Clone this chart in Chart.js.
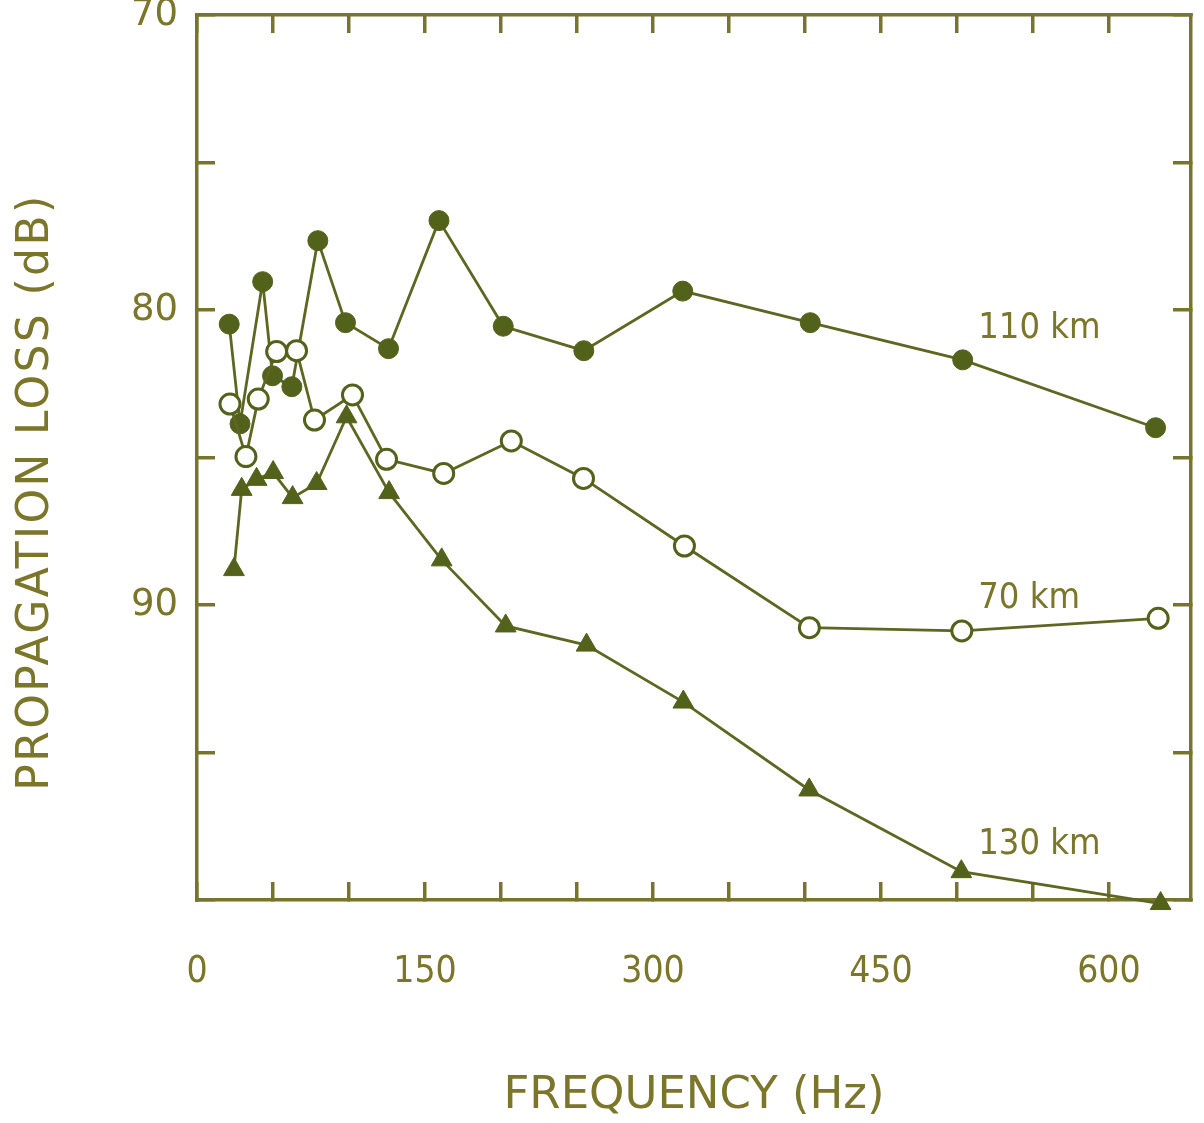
<!DOCTYPE html>
<html>
<head>
<meta charset="utf-8">
<script src="https://cdn.jsdelivr.net/npm/chart.js@4/dist/chart.umd.min.js"></script>
<style>
html,body{margin:0;padding:0;background:#ffffff;}
#wrap{width:1204px;height:1123px;position:relative;}
</style>
</head>
<body>
<div id="wrap"><canvas id="c"></canvas></div>
<script>
// ---- data ----
const seriesNames = ['110 km', '70 km', '130 km'];

const freq110 = [21.2, 28.3, 43.2, 49.7, 62.4, 79.5, 97.7, 126.0, 159.2, 201.5, 254.5, 319.6, 403.5, 503.8, 630.7];
const loss110 = [80.48, 83.86, 79.04, 82.23, 82.6, 77.65, 80.43, 81.31, 76.97, 80.55, 81.38, 79.36, 80.43, 81.69, 83.99];

const freq70 = [21.7, 32.2, 40.3, 52.4, 65.5, 77.3, 102.3, 124.7, 162.3, 206.8, 254.3, 320.7, 402.9, 503.2, 632.4];
const loss70 = [83.19, 84.97, 83.02, 81.41, 81.38, 83.73, 82.88, 85.06, 85.54, 84.44, 85.71, 88.0, 90.77, 90.88, 90.45];

const freq130 = [24.3, 29.4, 39.2, 50.1, 62.9, 78.7, 98.4, 126.4, 161.0, 203.1, 256.3, 320.0, 402.8, 502.9, 634.0];
const loss130 = [88.8, 86.08, 85.74, 85.51, 86.36, 85.88, 83.62, 86.19, 88.47, 90.71, 91.36, 93.29, 96.27, 99.04, 100.12];

// x axis: ticks every 50 Hz, labels every 150 Hz
const xTickLabels = ['0', '150', '300', '450', '600'];
// y axis: ticks every 5 dB, labels every 10 dB
const yTickLabels = ['70', '80', '90'];

// where the series names sit (in data units)
const nameFreq = [514, 514, 514];
const nameLoss = [80.62, 89.8, 98.12];

const xTitle = 'FREQUENCY (Hz)';
const yTitle = 'PROPAGATION LOSS (dB)';

// ---- styles ----
const axisColor = '#77752b';
const textColor = '#7b7629';
const lineColor = '#5e6622';
const markColor = '#52621b';

function pts(xs, ys) { return xs.map((v, i) => ({ x: v, y: ys[i] })); }

const innerTick = {
  drawOnChartArea: false, drawTicks: true, tickLength: -18,
  tickWidth: 3.5, tickColor: axisColor, color: axisColor, lineWidth: 3.5
};
const frame = { display: true, color: axisColor, width: 3.5 };

const textPlugin = {
  id: 'texts',
  afterDatasetsDraw(chart) {
    const { ctx, scales } = chart;
    ctx.save();
    ctx.fillStyle = textColor;
    ctx.font = "36px 'DejaVu Sans Condensed', 'DejaVu Sans', sans-serif";
    ctx.textAlign = 'left';
    ctx.textBaseline = 'middle';
    seriesNames.forEach((n, i) => {
      ctx.fillText(n, scales.x.getPixelForValue(nameFreq[i]), scales.y.getPixelForValue(nameLoss[i]));
    });
    ctx.restore();
  },
  afterDraw(chart) {
    // rotated y-axis title, centred along the reference's lettering
    const { ctx, scales } = chart;
    const y = scales.y;
    ctx.save();
    ctx.fillStyle = textColor;
    ctx.font = "44px 'DejaVu Sans', sans-serif";
    if ('letterSpacing' in ctx) ctx.letterSpacing = '2.4px';
    ctx.textAlign = 'center';
    ctx.textBaseline = 'middle';
    ctx.translate(y.left + 37, y.getPixelForValue(86.17));
    ctx.rotate(-Math.PI / 2);
    ctx.fillText(yTitle, 0, 0);
    ctx.restore();
  }
};

new Chart(document.getElementById('c'), {
  type: 'scatter',
  data: {
    datasets: [
      {
        label: seriesNames[1], data: pts(freq70, loss70), order: 0,
        showLine: true, borderColor: lineColor, borderWidth: 2.8,
        pointStyle: 'circle', pointRadius: 10, pointBackgroundColor: '#ffffff',
        pointBorderColor: markColor, pointBorderWidth: 3, clip: false
      },
      {
        label: seriesNames[0], data: pts(freq110, loss110), order: 1,
        showLine: true, borderColor: lineColor, borderWidth: 2.8,
        pointStyle: 'circle', pointRadius: 10, pointBackgroundColor: markColor,
        pointBorderColor: markColor, pointBorderWidth: 1, clip: false
      },
      {
        label: seriesNames[2], data: pts(freq130, loss130), order: 2,
        showLine: true, borderColor: lineColor, borderWidth: 2.8,
        pointStyle: 'triangle', pointRadius: 12, pointBackgroundColor: markColor,
        pointBorderColor: markColor, pointBorderWidth: 1, clip: false
      }
    ]
  },
  options: {
    responsive: true,
    maintainAspectRatio: false,
    animation: false,
    devicePixelRatio: 1,
    layout: { padding: 0 },
    plugins: { legend: { display: false }, tooltip: { enabled: false } },
    scales: {
      x: {
        type: 'linear', position: 'bottom', min: 0, max: 654,
        afterBuildTicks: s => { s.ticks = s.ticks.filter(t => t.value <= 600); },
        ticks: {
          stepSize: 50, autoSkip: false, maxRotation: 0, padding: 68,
          color: textColor,
          font: { family: "'DejaVu Sans Condensed', 'DejaVu Sans', sans-serif", size: 37 },
          callback: v => xTickLabels.includes(String(v)) ? String(v) : ''
        },
        grid: innerTick, border: frame,
        title: {
          display: true, text: xTitle, color: textColor,
          font: { family: "'DejaVu Sans', sans-serif", size: 45 },
          padding: { top: 0, bottom: 0 }
        },
        afterFit: s => { s.height = 223; s.paddingLeft = 0; s.paddingRight = 0; }
      },
      x2: {
        type: 'linear', position: 'top', min: 0, max: 654,
        afterBuildTicks: s => { s.ticks = s.ticks.filter(t => t.value <= 600); },
        ticks: { stepSize: 50, display: false },
        grid: innerTick, border: frame,
        afterFit: s => { s.height = 15; s.paddingLeft = 0; s.paddingRight = 0; }
      },
      y: {
        type: 'linear', position: 'left', min: 70, max: 100, reverse: true,
        ticks: {
          stepSize: 5, autoSkip: false, padding: 37, color: textColor,
          font: { family: "'DejaVu Sans', sans-serif", size: 37 },
          callback: v => yTickLabels.includes(String(v)) ? String(v) : ''
        },
        grid: innerTick, border: frame,
        title: { display: false, text: yTitle },
        afterFit: s => { s.width = 197; s.paddingTop = 0; s.paddingBottom = 0; }
      },
      y2: {
        type: 'linear', position: 'right', min: 70, max: 100, reverse: true,
        ticks: { stepSize: 5, display: false },
        grid: innerTick, border: frame,
        afterFit: s => { s.width = 12; s.paddingTop = 0; s.paddingBottom = 0; }
      }
    }
  },
  plugins: [textPlugin]
});
</script>
</body>
</html>
